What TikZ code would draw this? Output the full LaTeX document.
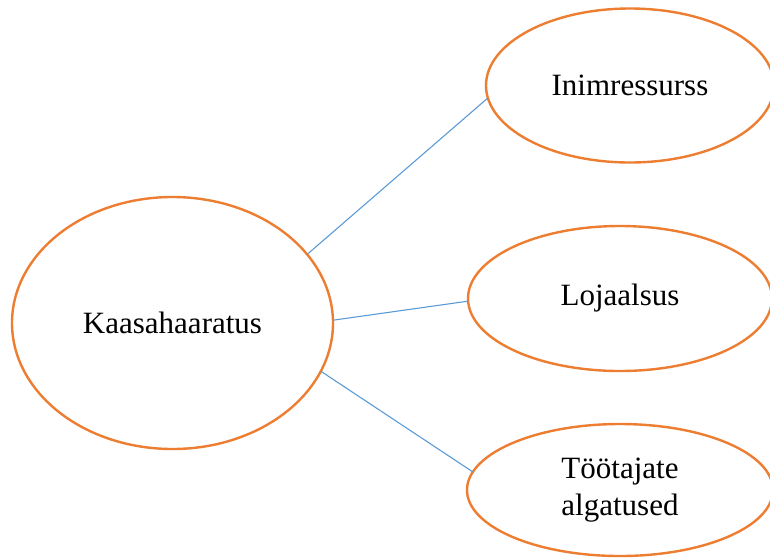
\documentclass[tikz,border=0pt]{standalone}
\usepackage{fontspec}
\setmainfont{Liberation Serif}
\usetikzlibrary{shapes.geometric}
\definecolor{ellorange}{HTML}{ED7D31}
\definecolor{linkblue}{HTML}{5B9BD5}
\begin{document}
\begin{tikzpicture}[x=1pt,y=-1pt,
  bubble/.style={ellipse, draw=ellorange, line width=2.4pt, inner sep=0pt, outer sep=0pt,
    align=center, font=\fontsize{31}{37}\selectfont},
  link/.style={draw=linkblue, line width=1.1pt}]
\useasboundingbox (0,0) rectangle (770,558);
\clip (0,0) rectangle (770,558);
\node[bubble, minimum width=321pt, minimum height=252pt] (k) at (172.5,323) {Kaasahaaratus};
\node[bubble, minimum width=288pt, minimum height=154pt] (i) at (630,85.5) {Inimressurss};
\node[bubble, minimum width=304pt, minimum height=145pt] (l) at (620,298.5) {Lojaalsus};
\node[bubble, minimum width=306pt, minimum height=132pt] (t) at (620,490) {Töötajate\\algatused};
\draw[link] (k.27.5) -- (i.185);
\draw[link] (k.1.8) -- (l.181.7);
\draw[link] (k.-18.2) -- (t.173);
\end{tikzpicture}
\end{document}
